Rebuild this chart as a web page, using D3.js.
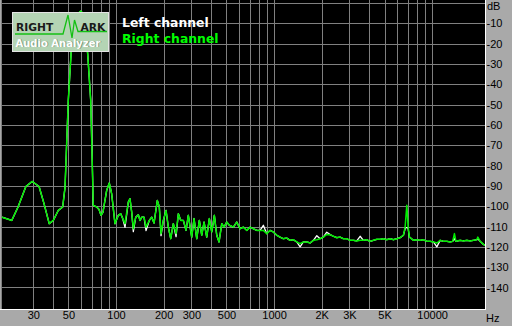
<!DOCTYPE html>
<html><head><meta charset="utf-8">
<script src="https://cdn.jsdelivr.net/npm/d3@7/dist/d3.min.js"></script>
<style>html,body{margin:0;padding:0;background:#a9a9a9;}svg{display:block;}</style>
</head><body>
<svg id="chart" width="512" height="326"></svg>
<script>
const freqs = [19.0,21.9,24.0,26.9,29.5,32.6,35.0,37.8,40.1,43.1,46.0,47.6,49.9,52.4,54.2,56.6,59.8,62.8,66.2,69.2,71.2,71.8,75.5,78.1,80.4,82.7,87.3,90.7,93.9,98.5,
103.4,107.1,110.3,114.0,119.6,122.6,125.7,128.7,133.3,138.4,141.9,145.4,150.4,154.9,162.5,168.3,174.0,182.5,187.9,192.7,199.3,207.3,214.3,221.9,230.5,239.8,248.0,256.8,266.7,277.3,
286.8,301.3,311.6,324.2,336.7,348.7,360.6,375.0,389.5,403.4,419.0,433.9,448.7,466.7,482.6,501.9,521.3,552.6,580.7,609.3,639.3,671.8,705.0,739.6,777.2,815.5,855.7,899.1,943.4,989.9,
1040,1091,1145,1203,1263,1325,1392,1461,1532,1611,1690,1774,1864,1955,2051,2155,2262,2373,2494,2617,2746,2885,3027,3177,3337,3502,3674,3861,4052,4251,
4467,4688,4918,5168,5424,5690,5978,6273,6582,6747,6844,6916,6977,7048,7183,7612,8000,8395,8809,9258,9712,10190,10710,11230,11790,12390,13000,13480,13840,14130,
15040,15780,16580,17400,18260,19180,19460,20130,21120,21650];

const rightDb = [-105.4,-107.0,-100.4,-90.3,-87.8,-90.3,-98.6,-108.6,-107.0,-102.1,-100.4,-90.6,-48.0,-20.0,-9.7,-5.7,-4.0,-5.7,-25.1,-48.0,-87.3,-99.6,-100.4,-101.6,-104.5,-102.9,-92.2,-88.6,-93.9,-108.6,
-104.5,-103.7,-106.1,-108.6,-98.0,-96.3,-102.9,-111.1,-105.4,-104.2,-107.0,-105.4,-105.4,-110.3,-107.0,-105.4,-108.3,-97.2,-100.4,-113.5,-107.0,-102.1,-110.3,-116.0,-108.6,-113.5,-103.7,-107.0,-107.0,-111.9,
-104.5,-115.2,-106.1,-116.0,-107.0,-114.3,-107.8,-115.2,-106.1,-112.7,-104.5,-114.3,-117.6,-108.6,-110.3,-107.8,-109.4,-110.3,-107.8,-111.1,-110.3,-111.9,-110.3,-111.1,-111.9,-111.9,-111.9,-113.5,-111.9,-112.7,
-114.3,-115.2,-116.0,-115.7,-116.8,-116.5,-117.6,-118.4,-117.6,-117.6,-118.1,-116.8,-116.5,-116.0,-115.2,-113.9,-114.0,-114.8,-115.5,-115.2,-116.0,-116.0,-116.8,-116.8,-117.1,-116.8,-116.8,-116.5,-117.3,-116.8,
-116.3,-116.3,-116.0,-116.5,-116.0,-116.5,-116.0,-115.5,-114.3,-110.3,-104.0,-99.5,-104.0,-110.3,-115.2,-116.8,-116.5,-116.8,-116.5,-117.3,-117.3,-117.6,-118.1,-116.8,-117.3,-117.3,-117.6,-117.3,-113.5,-117.3,
-116.8,-117.1,-116.8,-117.1,-116.8,-116.5,-115.2,-117.3,-118.8,-119.3];

const leftDb = [-105.4,-107.0,-100.4,-90.3,-87.8,-90.3,-98.6,-108.6,-107.0,-102.1,-100.4,-90.6,-48.0,-20.0,-9.7,-5.7,-4.0,-5.7,-25.1,-48.0,-87.3,-99.6,-100.4,-101.6,-104.5,-102.9,-92.2,-88.6,-93.9,-108.6,
-104.5,-103.7,-106.1,-110.4,-98.0,-96.3,-102.9,-112.5,-105.4,-104.2,-107.0,-105.4,-105.4,-112.0,-107.0,-105.4,-108.3,-97.2,-100.4,-114.5,-107.0,-102.1,-110.3,-116.0,-108.6,-115.0,-103.7,-107.0,-107.0,-111.9,
-104.5,-115.2,-106.1,-116.0,-107.0,-114.3,-107.8,-115.2,-106.1,-112.7,-104.5,-114.3,-117.6,-108.6,-110.3,-107.8,-109.4,-110.3,-107.8,-111.1,-110.3,-111.9,-110.3,-111.1,-111.9,-111.9,-109.4,-113.5,-111.9,-112.7,
-114.3,-115.2,-116.0,-115.7,-116.8,-116.5,-117.6,-120.0,-117.6,-117.6,-118.1,-116.8,-114.5,-116.0,-115.2,-112.8,-114.0,-114.8,-115.5,-115.2,-116.0,-116.0,-116.8,-116.8,-117.1,-114.8,-116.8,-116.5,-117.3,-116.8,
-116.3,-116.3,-116.0,-116.5,-116.0,-116.5,-116.0,-115.5,-114.3,-111.0,-110.5,-110.5,-110.5,-111.0,-115.2,-116.8,-116.5,-116.8,-116.5,-117.3,-117.3,-117.6,-120.0,-116.8,-117.3,-117.3,-117.6,-117.3,-116.0,-117.3,
-116.8,-117.1,-116.8,-117.1,-116.8,-116.5,-116.0,-117.3,-118.8,-119.3];

const xTicks = [30,50,100,200,300,500,1000,2000,3000,5000,10000];
const xTickLabels = ["30","50","100","200","300","500","1000","2K","3K","5K","10000"];
const xGrid = [30,40,50,60,70,80,90,100,200,300,400,500,600,700,800,900,1000,2000,3000,4000,5000,6000,7000,8000,9000,10000];
const yTicks = [-10,-20,-30,-40,-50,-60,-70,-80,-90,-100,-110,-120,-130,-140];
const yGrid = [0,-10,-20,-30,-40,-50,-60,-70,-80,-90,-100,-110,-120,-130,-140];
const seriesNames = ["Left channel","Right channel"];

const svg = d3.select("#chart");
const x = d3.scaleLog().domain([19, 21600]).range([2, 485]);
const y = d3.scaleLinear().domain([0, -150]).range([3, 307.8]);

svg.append("rect").attr("x",0).attr("y",0).attr("width",512).attr("height",326).attr("fill","#a9a9a9");
svg.append("rect").attr("x",1).attr("y",0).attr("width",484).attr("height",309).attr("fill","#000");

const grid = svg.append("g").attr("stroke","#808080").attr("stroke-width",1);
grid.selectAll("line.v").data(xGrid).enter().append("line")
  .attr("x1",d=>Math.round(x(d))+0.5).attr("x2",d=>Math.round(x(d))+0.5)
  .attr("y1",0).attr("y2",309);
grid.selectAll("line.h").data(yGrid).enter().append("line")
  .attr("x1",1).attr("x2",485)
  .attr("y1",d=>Math.round(y(d))+0.5).attr("y2",d=>Math.round(y(d))+0.5);
grid.append("line").attr("x1",1.5).attr("x2",1.5).attr("y1",0).attr("y2",309);

svg.append("line").attr("x1",485.5).attr("x2",485.5).attr("y1",0).attr("y2",310).attr("stroke","#fff");
svg.append("line").attr("x1",0).attr("x2",486).attr("y1",309.5).attr("y2",309.5).attr("stroke","#fff");

svg.append("clipPath").attr("id","clip").append("rect").attr("x",1).attr("y",0).attr("width",484).attr("height",309);

const pts = s => freqs.map((f,i)=>[f,s[i]]);
const line = d3.line().x(d=>x(d[0])).y(d=>y(d[1]));
const plot = svg.append("g").attr("clip-path","url(#clip)");
plot.append("path").attr("d",line(pts(leftDb))).attr("fill","none").attr("stroke","#ffffff").attr("stroke-width",1.3).attr("stroke-linejoin","round");
plot.append("path").attr("d",line(pts(rightDb))).attr("fill","none").attr("stroke","#00ee00").attr("stroke-width",1.5).attr("stroke-linejoin","round");

const yAxis = d3.axisRight(y).tickValues(yTicks).tickSize(0).tickPadding(1).tickFormat(d=>String(d));
const gy = svg.append("g").attr("transform","translate(485.5,0)").call(yAxis);
gy.select(".domain").remove();
gy.selectAll("text").attr("font-family","Liberation Sans, Arial, sans-serif").attr("font-size",11).attr("fill","#000");

const xAxis = d3.axisBottom(x).tickValues(xTicks).tickSize(0).tickPadding(2.5).tickFormat((d,i)=>xTickLabels[i]);
const gx = svg.append("g").attr("transform","translate(0,309)").call(xAxis);
gx.select(".domain").remove();
gx.selectAll("text").attr("font-family","Liberation Sans, Arial, sans-serif").attr("font-size",11).attr("fill","#000");

svg.append("text").attr("x",487).attr("y",10).text("dB").attr("font-family","Liberation Sans, Arial, sans-serif").attr("font-size",11).attr("fill","#000");
svg.append("text").attr("x",486).attr("y",321.5).text("Hz").attr("font-family","Liberation Sans, Arial, sans-serif").attr("font-size",11).attr("fill","#000");

const legColors = ["#ffffff","#00ff00"];
svg.selectAll("text.leg").data(seriesNames).enter().append("text")
  .attr("x",122).attr("y",(d,i)=>27+i*16).text(d=>d)
  .attr("font-family","DejaVu Sans, Verdana, sans-serif").attr("font-weight","bold").attr("font-size",12.4)
  .attr("fill",(d,i)=>legColors[i]);

const logo = svg.append("g");
logo.append("rect").attr("x",12.5).attr("y",12.5).attr("width",96).attr("height",39).attr("fill","#b4d4b4").attr("stroke","#e4e4e4").attr("stroke-width",1);
logo.append("path").attr("d","M15,34 L63,34 L68,15 L72,38 L74.5,20 L78,31.5 L107,31.5")
  .attr("fill","none").attr("stroke","#14c014").attr("stroke-width",1.3);
logo.append("text").attr("x",16).attr("y",31).text("RIGHT").attr("font-family","DejaVu Sans, Verdana, sans-serif").attr("font-weight","bold").attr("font-size",10.7).attr("fill","#1a1a1a");
logo.append("text").attr("x",80.5).attr("y",31).text("ARK").attr("font-family","DejaVu Sans, Verdana, sans-serif").attr("font-weight","bold").attr("font-size",10.7).attr("fill","#1a1a1a");
logo.append("text").attr("x",16.3).attr("y",47.3).text("Audio Analyzer").attr("font-family","DejaVu Sans, Verdana, sans-serif").attr("font-weight","bold").attr("font-size",10).attr("fill","#6f8f6f");
logo.append("text").attr("x",15.5).attr("y",46.5).text("Audio Analyzer").attr("font-family","DejaVu Sans, Verdana, sans-serif").attr("font-weight","bold").attr("font-size",10).attr("fill","#ffffff");
</script>
</body></html>
